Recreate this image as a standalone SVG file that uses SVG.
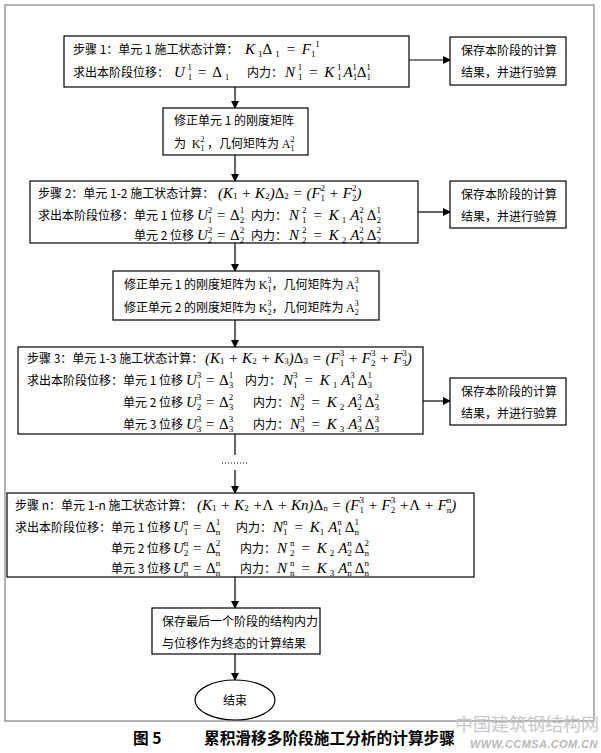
<svg xmlns="http://www.w3.org/2000/svg" width="601" height="753" viewBox="0 0 601 753">
<defs>
<marker id="a" markerWidth="8" markerHeight="8" refX="7" refY="4" orient="auto" markerUnits="userSpaceOnUse">
<path d="M0,0 L8,4 L0,8 z" fill="#000"/>
</marker>
<style>
.box{fill:#fff;stroke:#000;stroke-width:1.2}
.t{font-family:"Noto Sans CJK SC",sans-serif;font-size:12px;fill:#000}
.m{font-family:"Liberation Serif",serif;font-size:15px;font-style:italic;fill:#000}
.r{font-family:"Liberation Serif",serif;font-style:normal}
.u{font-style:normal}
.s{font-size:9px;font-style:normal}
.k{font-size:8px}
.c{stroke:#000;stroke-width:1.2;fill:none}
.ca{stroke:#000;stroke-width:1.2;fill:none;marker-end:url(#a)}
.cap{font-family:"Noto Sans CJK SC",sans-serif;font-size:15.7px;font-weight:bold;fill:#000}
</style>
</defs>
<rect x="0" y="0" width="601" height="753" fill="#fff"/>
<rect x="5" y="5" width="589" height="716" fill="none" stroke="#808080" stroke-width="1.2"/>

<g id="connectors">
<path class="ca" d="M235,87 V108"/>
<path class="ca" d="M235,155 V181"/>
<path class="ca" d="M235,243 V271"/>
<path class="ca" d="M235,320 V347"/>
<path class="c" d="M235,434 V455"/>
<path class="c" d="M222,463 H248" stroke-dasharray="1,2"/>
<path class="ca" d="M235,470 V493"/>
<path class="ca" d="M235,577 V608"/>
<path class="ca" d="M235,654 V680"/>
<path class="ca" d="M409,60 H450"/>
<path class="ca" d="M418,212 H450"/>
<path class="ca" d="M423,401 H450"/>
</g>

<g id="step1">
<rect class="box" x="64" y="36" width="345" height="51"/>
<text class="t" x="73" y="54">步骤 1：单元 1 施工状态计算：</text>
<text class="m" x="245" y="54">K<tspan class="s" dx="3" dy="3">1</tspan><tspan class="u" dy="-3">Δ</tspan><tspan class="s" dx="3" dy="3">1</tspan><tspan dx="6" dy="-3">=</tspan><tspan dx="6">F</tspan><tspan class="s" dy="3">1</tspan><tspan class="s" dy="-10">1</tspan></text>
<text class="t" x="73" y="77">求出本阶段位移：</text>
<text class="m" x="174" y="77">U<tspan class="s" dx="3" dy="3">1</tspan><tspan class="s" dx="-4.5" dy="-10">1</tspan><tspan dx="5" dy="7">=</tspan><tspan class="u" dx="5">Δ</tspan><tspan class="s" dx="3" dy="3">1</tspan></text>
<text class="t" x="247" y="77">内力：</text>
<text class="m" x="285" y="77">N<tspan class="s" dx="3" dy="3">1</tspan><tspan class="s" dx="-4.5" dy="-10">1</tspan><tspan dx="6" dy="7">=</tspan><tspan dx="6">K</tspan><tspan class="s" dx="3" dy="3">1</tspan><tspan class="s" dx="-4.5" dy="-10">1</tspan><tspan dx="2" dy="7">A</tspan><tspan class="s" dy="3">1</tspan><tspan class="s" dx="-4.5" dy="-10">1</tspan><tspan class="u" dy="7">Δ</tspan><tspan class="s" dy="3">1</tspan><tspan class="s" dx="-4.5" dy="-10">1</tspan></text>
</g>

<g id="save1">
<rect class="box" x="450" y="37" width="116" height="48"/>
<text class="t" x="461" y="55">保存本阶段的计算</text>
<text class="t" x="461" y="77">结果，并进行验算</text>
</g>

<g id="update1">
<rect class="box" x="163" y="108" width="145" height="47"/>
<text class="t" x="174" y="125">修正单元 1 的刚度矩阵</text>
<text class="t" x="174" y="148">为 <tspan class="r" dx="3">K</tspan><tspan class="r k" dy="3">1</tspan><tspan class="r k" dx="-4" dy="-9">2</tspan><tspan dy="6"> ，几何矩阵为 </tspan><tspan class="r">A</tspan><tspan class="r k" dy="3">1</tspan><tspan class="r k" dx="-4" dy="-9">2</tspan></text>
</g>

<g id="step2">
<rect class="box" x="30" y="181" width="388" height="62"/>
<text class="t" x="38" y="198">步骤 2：单元 1-2 施工状态计算：</text>
<text class="m" x="218" y="198">(K<tspan class="s" dy="1">1</tspan><tspan dy="-1"> + K</tspan><tspan class="s" dy="1">2</tspan><tspan dy="-1">)</tspan><tspan class="u">Δ</tspan><tspan class="s" dy="1">2</tspan><tspan dy="-1"> = (F</tspan><tspan class="s" dy="3">1</tspan><tspan class="s" dx="-4.5" dy="-10">2</tspan><tspan dy="7"> + F</tspan><tspan class="s" dy="3">2</tspan><tspan class="s" dx="-4.5" dy="-10">2</tspan><tspan dy="7">)</tspan></text>
<text class="t" x="38" y="220">求出本阶段位移：单元 1 位移</text>
<text class="m" x="197" y="220">U<tspan class="s" dy="3">1</tspan><tspan class="s" dx="-4.5" dy="-10">2</tspan><tspan dy="7"> = </tspan><tspan class="u">Δ</tspan><tspan class="s" dy="3">2</tspan><tspan class="s" dx="-4.5" dy="-10">1</tspan></text>
<text class="t" x="251" y="220">内力：</text>
<text class="m" x="289" y="220">N<tspan class="s" dx="3" dy="3">1</tspan><tspan class="s" dx="-4.5" dy="-10">2</tspan><tspan dx="6" dy="7">=</tspan><tspan dx="6">K</tspan><tspan class="s" dx="3" dy="3">1</tspan><tspan dx="4" dy="-3">A</tspan><tspan class="s" dy="3">1</tspan><tspan class="s" dx="-4.5" dy="-10">2</tspan><tspan class="u" dx="3" dy="7">Δ</tspan><tspan class="s" dy="3">2</tspan><tspan class="s" dx="-4.5" dy="-10">1</tspan></text>
<text class="t" x="134" y="240">单元 2 位移</text>
<text class="m" x="197" y="240">U<tspan class="s" dy="3">2</tspan><tspan class="s" dx="-4.5" dy="-10">2</tspan><tspan dy="7"> = </tspan><tspan class="u">Δ</tspan><tspan class="s" dy="3">2</tspan><tspan class="s" dx="-4.5" dy="-10">2</tspan></text>
<text class="t" x="251" y="240">内力：</text>
<text class="m" x="289" y="240">N<tspan class="s" dx="3" dy="3">2</tspan><tspan class="s" dx="-4.5" dy="-10">2</tspan><tspan dx="6" dy="7">=</tspan><tspan dx="6">K</tspan><tspan class="s" dx="3" dy="3">2</tspan><tspan dx="4" dy="-3">A</tspan><tspan class="s" dy="3">2</tspan><tspan class="s" dx="-4.5" dy="-10">2</tspan><tspan class="u" dx="3" dy="7">Δ</tspan><tspan class="s" dy="3">2</tspan><tspan class="s" dx="-4.5" dy="-10">2</tspan></text>
</g>

<g id="save2">
<rect class="box" x="450" y="181" width="116" height="47"/>
<text class="t" x="461" y="199">保存本阶段的计算</text>
<text class="t" x="461" y="221">结果，并进行验算</text>
</g>

<g id="update2">
<rect class="box" x="113" y="271" width="266" height="49"/>
<text class="t" x="124" y="289">修正单元 1 的刚度矩阵为 <tspan class="r">K</tspan><tspan class="r k" dy="3">1</tspan><tspan class="r k" dx="-4" dy="-9">3</tspan><tspan dy="6">，几何矩阵为 </tspan><tspan class="r">A</tspan><tspan class="r k" dy="3">1</tspan><tspan class="r k" dx="-4" dy="-9">3</tspan></text>
<text class="t" x="124" y="312">修正单元 2 的刚度矩阵为 <tspan class="r">K</tspan><tspan class="r k" dy="3">2</tspan><tspan class="r k" dx="-4" dy="-9">3</tspan><tspan dy="6">，几何矩阵为 </tspan><tspan class="r">A</tspan><tspan class="r k" dy="3">2</tspan><tspan class="r k" dx="-4" dy="-9">3</tspan></text>
</g>

<g id="step3">
<rect class="box" x="18" y="347" width="405" height="87"/>
<text class="t" x="27" y="363">步骤 3：单元 1-3 施工状态计算：</text>
<text class="m" x="205" y="363">(K<tspan class="s" dy="1">1</tspan><tspan dy="-1"> + K</tspan><tspan class="s" dy="1">2</tspan><tspan dy="-1"> + K</tspan><tspan class="s" dy="1">3</tspan><tspan dy="-1">)</tspan><tspan class="u">Δ</tspan><tspan class="s" dy="1">3</tspan><tspan dy="-1"> = (F</tspan><tspan class="s" dy="3">1</tspan><tspan class="s" dx="-4.5" dy="-10">3</tspan><tspan dy="7"> + F</tspan><tspan class="s" dy="3">2</tspan><tspan class="s" dx="-4.5" dy="-10">3</tspan><tspan dy="7"> + F</tspan><tspan class="s" dy="3">3</tspan><tspan class="s" dx="-4.5" dy="-10">3</tspan><tspan dy="7">)</tspan></text>
<text class="t" x="27" y="385">求出本阶段位移：单元 1 位移</text>
<text class="m" x="186" y="385">U<tspan class="s" dy="3">1</tspan><tspan class="s" dx="-4.5" dy="-10">3</tspan><tspan dy="7"> = </tspan><tspan class="u">Δ</tspan><tspan class="s" dy="3">3</tspan><tspan class="s" dx="-4.5" dy="-10">1</tspan></text>
<text class="t" x="245" y="385">内力：</text>
<text class="m" x="283" y="385">N<tspan class="s" dy="3">1</tspan><tspan class="s" dx="-4.5" dy="-10">3</tspan><tspan dx="6" dy="7">=</tspan><tspan dx="6">K</tspan><tspan class="s" dx="3" dy="3">1</tspan><tspan dx="4" dy="-3">A</tspan><tspan class="s" dy="3">1</tspan><tspan class="s" dx="-4.5" dy="-10">3</tspan><tspan class="u" dx="3" dy="7">Δ</tspan><tspan class="s" dy="3">3</tspan><tspan class="s" dx="-4.5" dy="-10">1</tspan></text>
<text class="t" x="123" y="407">单元 2 位移</text>
<text class="m" x="186" y="407">U<tspan class="s" dy="3">2</tspan><tspan class="s" dx="-4.5" dy="-10">3</tspan><tspan dy="7"> = </tspan><tspan class="u">Δ</tspan><tspan class="s" dy="3">3</tspan><tspan class="s" dx="-4.5" dy="-10">2</tspan></text>
<text class="t" x="253" y="407">内力：</text>
<text class="m" x="290" y="407">N<tspan class="s" dy="3">2</tspan><tspan class="s" dx="-4.5" dy="-10">3</tspan><tspan dx="6" dy="7">=</tspan><tspan dx="6">K</tspan><tspan class="s" dx="3" dy="3">2</tspan><tspan dx="4" dy="-3">A</tspan><tspan class="s" dy="3">2</tspan><tspan class="s" dx="-4.5" dy="-10">3</tspan><tspan class="u" dx="3" dy="7">Δ</tspan><tspan class="s" dy="3">3</tspan><tspan class="s" dx="-4.5" dy="-10">2</tspan></text>
<text class="t" x="123" y="429">单元 3 位移</text>
<text class="m" x="186" y="429">U<tspan class="s" dy="3">3</tspan><tspan class="s" dx="-4.5" dy="-10">3</tspan><tspan dy="7"> = </tspan><tspan class="u">Δ</tspan><tspan class="s" dy="3">3</tspan><tspan class="s" dx="-4.5" dy="-10">3</tspan></text>
<text class="t" x="253" y="429">内力：</text>
<text class="m" x="290" y="429">N<tspan class="s" dy="3">3</tspan><tspan class="s" dx="-4.5" dy="-10">3</tspan><tspan dx="6" dy="7">=</tspan><tspan dx="6">K</tspan><tspan class="s" dx="3" dy="3">3</tspan><tspan dx="4" dy="-3">A</tspan><tspan class="s" dy="3">3</tspan><tspan class="s" dx="-4.5" dy="-10">3</tspan><tspan class="u" dx="3" dy="7">Δ</tspan><tspan class="s" dy="3">3</tspan><tspan class="s" dx="-4.5" dy="-10">3</tspan></text>
</g>

<g id="save3">
<rect class="box" x="450" y="378" width="116" height="47"/>
<text class="t" x="461" y="396">保存本阶段的计算</text>
<text class="t" x="461" y="418">结果，并进行验算</text>
</g>

<g id="stepn">
<rect class="box" x="7" y="493" width="467" height="84"/>
<text class="t" x="15" y="510">步骤 n：单元 1-n 施工状态计算：</text>
<text class="m" x="197" y="510">(K<tspan class="s" dy="1">1</tspan><tspan dy="-1"> + K</tspan><tspan class="s" dy="1">2</tspan><tspan dy="-1"> +</tspan><tspan class="u">Λ</tspan><tspan> + Kn)</tspan><tspan class="u">Δ</tspan><tspan class="s" dy="1">n</tspan><tspan dy="-1"> = (F</tspan><tspan class="s" dy="3">1</tspan><tspan class="s" dx="-4.5" dy="-10">3</tspan><tspan dy="7"> + F</tspan><tspan class="s" dy="3">2</tspan><tspan class="s" dx="-4.5" dy="-10">3</tspan><tspan dy="7"> +</tspan><tspan class="u">Λ</tspan><tspan> + F</tspan><tspan class="s" dy="3">n</tspan><tspan class="s" dx="-4.5" dy="-10">n</tspan><tspan dy="7">)</tspan></text>
<text class="t" x="15" y="532">求出本阶段位移：单元 1 位移</text>
<text class="m" x="173" y="532">U<tspan class="s" dy="3">1</tspan><tspan class="s" dx="-4.5" dy="-10">n</tspan><tspan dy="7"> = </tspan><tspan class="u">Δ</tspan><tspan class="s" dy="3">n</tspan><tspan class="s" dx="-4.5" dy="-10">1</tspan></text>
<text class="t" x="236" y="532">内力：</text>
<text class="m" x="273" y="532">N<tspan class="s" dy="3">1</tspan><tspan class="s" dx="-4.5" dy="-10">n</tspan><tspan dx="6" dy="7">=</tspan><tspan dx="6">K</tspan><tspan class="s" dy="3">1</tspan><tspan dx="4" dy="-3">A</tspan><tspan class="s" dy="3">1</tspan><tspan class="s" dx="-4.5" dy="-10">n</tspan><tspan class="u" dx="3" dy="7">Δ</tspan><tspan class="s" dy="3">n</tspan><tspan class="s" dx="-4.5" dy="-10">1</tspan></text>
<text class="t" x="111" y="553">单元 2 位移</text>
<text class="m" x="173" y="553">U<tspan class="s" dy="3">2</tspan><tspan class="s" dx="-4.5" dy="-10">n</tspan><tspan dy="7"> = </tspan><tspan class="u">Δ</tspan><tspan class="s" dy="3">n</tspan><tspan class="s" dx="-4.5" dy="-10">2</tspan></text>
<text class="t" x="240" y="553">内力：</text>
<text class="m" x="277" y="553">N<tspan class="s" dx="3" dy="3">2</tspan><tspan class="s" dx="-4.5" dy="-10">n</tspan><tspan dx="6" dy="7">=</tspan><tspan dx="6">K</tspan><tspan class="s" dx="3" dy="3">2</tspan><tspan dx="4" dy="-3">A</tspan><tspan class="s" dy="3">2</tspan><tspan class="s" dx="-4.5" dy="-10">n</tspan><tspan class="u" dx="3" dy="7">Δ</tspan><tspan class="s" dy="3">n</tspan><tspan class="s" dx="-4.5" dy="-10">2</tspan></text>
<text class="t" x="111" y="573">单元 3 位移</text>
<text class="m" x="173" y="573">U<tspan class="s" dy="3">n</tspan><tspan class="s" dx="-4.5" dy="-10">n</tspan><tspan dy="7"> = </tspan><tspan class="u">Δ</tspan><tspan class="s" dy="3">n</tspan><tspan class="s" dx="-4.5" dy="-10">n</tspan></text>
<text class="t" x="240" y="573">内力：</text>
<text class="m" x="277" y="573">N<tspan class="s" dx="3" dy="3">n</tspan><tspan class="s" dx="-4.5" dy="-10">n</tspan><tspan dx="6" dy="7">=</tspan><tspan dx="6">K</tspan><tspan class="s" dx="3" dy="3">3</tspan><tspan dx="4" dy="-3">A</tspan><tspan class="s" dy="3">n</tspan><tspan class="s" dx="-4.5" dy="-10">n</tspan><tspan class="u" dx="3" dy="7">Δ</tspan><tspan class="s" dy="3">n</tspan><tspan class="s" dx="-4.5" dy="-10">n</tspan></text>
</g>

<g id="final">
<rect class="box" x="152" y="608" width="168" height="46"/>
<text class="t" x="162" y="626" font-size="11.5">保存最后一个阶段的结构内力</text>
<text class="t" x="162" y="648" font-size="11.5">与位移作为终态的计算结果</text>
</g>

<g id="end">
<ellipse class="box" cx="235" cy="700" rx="40" ry="20"/>
<text class="t" x="235" y="705" text-anchor="middle">结束</text>
</g>

<g id="caption">
<text class="cap" x="133" y="744">图 5</text>
<text class="cap" x="204" y="744">累积滑移多阶段施工分析的计算步骤</text>
<text x="455" y="731" font-family="Noto Sans CJK SC,sans-serif" font-size="18" fill="#c8c8c8">中国建筑钢结构网</text>
<text x="470" y="748" font-family="Liberation Sans,sans-serif" font-size="11" font-style="italic" font-weight="bold" letter-spacing="0.4" fill="#b8b8b8">WWW.CCMSA.COM.CN</text>
</g>
</svg>
